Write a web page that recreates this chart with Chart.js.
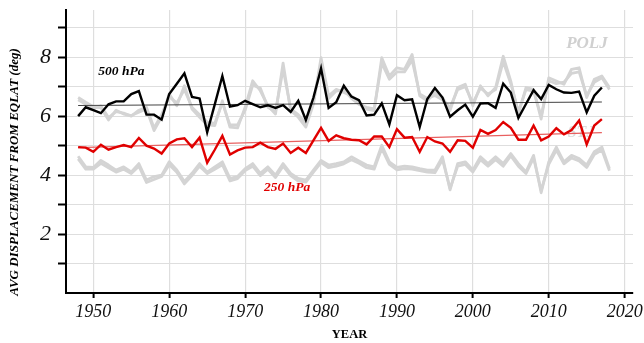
<!DOCTYPE html>
<html>
<head>
<meta charset="utf-8">
<script src="https://cdn.jsdelivr.net/npm/chart.js@4"></script>
<style>
html,body{margin:0;padding:0;background:#fff;}
#wrap{width:644px;height:343px;position:relative;}
</style>
</head>
<body>
<div id="wrap"><canvas id="c" width="644" height="343"></canvas></div>
<script>
const years = [];
for (let y = 1948; y <= 2017; y++) years.push(y);
const grayYears = [];
for (let y = 1948; y <= 2018; y++) grayYears.push(y);

const xTickYears = [1950, 1960, 1970, 1980, 1990, 2000, 2010, 2020];
const yTickValues = [0, 1, 2, 3, 4, 5, 6, 7, 8, 9];

const hpa500 = [
  6.0,6.3,6.2,6.1,6.4,6.5,6.5,6.75,6.85,6.05,6.05,5.88,6.75,7.1,7.45,6.65,6.6,5.45,
  6.4,7.36,6.32,6.37,6.52,6.41,6.3,6.37,6.28,6.37,6.14,6.52,5.87,6.63,7.62,6.28,6.47,7.03,
  6.66,6.54,6.02,6.05,6.43,5.72,6.71,6.54,6.57,5.63,6.58,6.95,6.63,5.98,6.2,6.39,5.98,
  6.43,6.44,6.28,7.1,6.8,5.94,6.41,6.88,6.58,7.06,6.91,6.8,6.79,6.83,6.13,6.69,6.97
];
const hpa250 = [
  4.95,4.93,4.79,5.03,4.86,4.95,5.02,4.95,5.26,5.0,4.9,4.73,5.07,5.21,5.25,4.95,5.27,4.42,
  4.86,5.33,4.7,4.84,4.93,4.95,5.1,4.95,4.89,5.07,4.75,4.93,4.75,5.18,5.6,5.16,5.35,5.25,
  5.2,5.18,5.04,5.31,5.31,4.95,5.56,5.27,5.29,4.79,5.29,5.14,5.07,4.79,5.18,5.16,4.93,
  5.53,5.4,5.53,5.8,5.6,5.2,5.2,5.68,5.18,5.31,5.59,5.38,5.53,5.85,5.04,5.68,5.9
];
const trend500 = [6.36, 6.48];
const trend250 = [4.93, 5.44];
const trendYears = [1948, 2017];

const grayUpperA = [
  6.63,6.47,6.32,6.28,5.87,6.2,6.07,6.02,6.13,6.24,5.51,5.98,6.75,6.35,7.03,6.24,5.96,5.7,
  5.68,6.52,5.63,5.6,6.3,7.2,6.86,6.35,6.07,7.8,6.19,5.96,5.63,6.41,7.98,6.69,6.91,6.8,
  6.69,6.47,6.24,6.19,7.98,7.36,7.64,7.59,8.09,6.69,6.52,6.8,6.63,6.19,6.97,7.08,6.35,
  7.03,6.69,6.97,8.03,7.19,6.07,6.97,6.91,5.9,7.3,7.19,7.08,7.59,7.64,6.63,7.25,7.36,6.97
];
const grayUpperB = [
  6.55,6.4,6.25,6.35,5.95,6.15,6.1,6.0,6.2,6.3,5.6,6.05,6.65,6.45,6.9,6.3,6.05,5.8,
  5.75,6.45,5.7,5.7,6.2,7.05,6.95,6.3,6.15,7.6,6.25,6.05,5.75,6.5,7.8,6.6,6.85,6.9,
  6.6,6.4,6.3,6.25,7.8,7.25,7.5,7.5,7.9,6.75,6.6,6.7,6.55,6.3,6.9,7.0,6.45,
  6.95,6.75,6.9,7.85,7.1,6.15,6.9,6.85,6.0,7.2,7.1,7.15,7.45,7.5,6.7,7.15,7.3,6.9
];
const grayLowerA = [
  4.64,4.28,4.26,4.5,4.34,4.17,4.28,4.11,4.39,3.83,3.95,4.0,4.45,4.17,3.78,4.06,4.39,4.1,
  4.28,4.45,3.89,3.95,4.22,4.39,4.06,4.28,4.0,4.39,4.06,3.89,3.83,4.17,4.5,4.34,4.39,4.45,
  4.62,4.48,4.34,4.28,5.01,4.45,4.26,4.3,4.28,4.22,4.17,4.17,4.62,3.5,4.39,4.45,4.17,
  4.62,4.39,4.62,4.39,4.73,4.39,4.11,4.67,3.4,4.45,4.95,4.45,4.67,4.56,4.34,4.79,4.95,4.22
];
const grayLowerB = [
  4.55,4.2,4.2,4.4,4.25,4.1,4.2,4.05,4.3,3.75,3.85,3.95,4.35,4.1,3.7,3.98,4.3,4.05,
  4.2,4.35,3.8,3.88,4.15,4.3,3.98,4.2,3.92,4.3,3.98,3.8,3.76,4.1,4.42,4.25,4.3,4.38,
  4.52,4.4,4.25,4.2,4.9,4.36,4.18,4.22,4.2,4.15,4.1,4.08,4.52,3.55,4.3,4.36,4.1,
  4.52,4.3,4.52,4.3,4.65,4.3,4.05,4.58,3.48,4.36,4.85,4.38,4.58,4.48,4.26,4.7,4.85,4.15
];

const pts = (xs, ys) => ys.map((v, i) => ({x: xs[i], y: v}));
const SERIF = "'Liberation Serif', 'Times New Roman', serif";
const GRAY = '#d4d4d4';

function grayDs(data){
  return {data: pts(grayYears, data), borderColor: GRAY, borderWidth: 2.8, pointRadius: 0, tension: 0, borderJoinStyle: 'round'};
}

const textPlugin = {
  id: 'texts',
  beforeDatasetsDraw(chart){
    const {ctx, scales:{x, y}} = chart;
    ctx.save();
    ctx.font = "bold italic 16px " + SERIF;
    ctx.fillStyle = '#dcdcdc';
    ctx.textBaseline = 'middle';
    ctx.textAlign = 'left';
    ctx.fillText('STJ', x.getPixelForValue(2012.5), y.getPixelForValue(5.42));
    ctx.restore();
  },
  afterDraw(chart){
    const {ctx, scales:{x, y}} = chart;
    ctx.save();
    ctx.textBaseline = 'middle';
    ctx.textAlign = 'left';
    ctx.font = "bold italic 13.5px " + SERIF;
    ctx.fillStyle = '#000';
    ctx.fillText('500 hPa', x.getPixelForValue(1950.66), y.getPixelForValue(7.53));
    ctx.fillStyle = '#e00000';
    ctx.fillText('250 hPa', x.getPixelForValue(1972.5), y.getPixelForValue(3.59));
    ctx.font = "bold italic 17px " + SERIF;
    ctx.fillStyle = '#d0d0d0';
    ctx.fillText('POLJ', x.getPixelForValue(2012.3), y.getPixelForValue(8.46));
    // y axis title
    ctx.translate(15, 172);
    ctx.rotate(-Math.PI/2);
    ctx.textAlign = 'center';
    ctx.font = "bold italic 13px " + SERIF;
    ctx.fillStyle = '#000';
    ctx.fillText('AVG DISPLACEMENT FROM EQLAT (deg)', 0, 0);
    ctx.restore();
  }
};

new Chart(document.getElementById('c'), {
  type: 'line',
  data: {
    datasets: [
      {label: '250 hPa', data: pts(years, hpa250), borderColor: '#e00000', borderWidth: 2.4, pointRadius: 0, tension: 0},
      {label: '500 hPa', data: pts(years, hpa500), borderColor: '#000', borderWidth: 2.4, pointRadius: 0, tension: 0},
      {label: 'trend250', data: pts(trendYears, trend250), borderColor: '#e86060', borderWidth: 1.2, pointRadius: 0},
      {label: 'trend500', data: pts(trendYears, trend500), borderColor: '#444', borderWidth: 1.2, pointRadius: 0},
      grayDs(grayUpperA), grayDs(grayUpperB), grayDs(grayLowerA), grayDs(grayLowerB)
    ]
  },
  options: {
    responsive: false,
    animation: false,
    devicePixelRatio: 1,
    layout: {padding: {left: 0, right: 11, top: 10, bottom: 0}},
    plugins: {legend: {display: false}, tooltip: {enabled: false}},
    scales: {
      x: {
        type: 'linear',
        min: 1946.4, max: 2021.1,
        afterBuildTicks: s => { s.ticks = xTickYears.map(v => ({value: v})); },
        afterFit: s => { s.height = 50; s.paddingLeft = 0; s.paddingRight = 0; },
        border: {display: true, color: '#000', width: 2},
        grid: {color: '#dedede', lineWidth: 1.2, drawTicks: true, tickLength: 5, tickColor: '#000', tickWidth: 2},
        ticks: {autoSkip: false, maxRotation: 0, padding: 3, color: '#111',
                font: {family: SERIF, size: 18, style: 'italic'},
                callback: v => String(v)},
        title: {display: true, text: 'YEAR', color: '#000', padding: {top: 0, bottom: 1},
                font: {family: SERIF, size: 12.5, weight: 'bold'}}
      },
      y: {
        min: 0, max: 9.6,
        afterBuildTicks: s => { s.ticks = yTickValues.map(v => ({value: v})); },
        afterFit: s => { s.width = 66; s.paddingTop = 0; s.paddingBottom = 0; },
        border: {display: true, color: '#000', width: 2},
        grid: {
          color: c => (c.tick && c.tick.value === 0) ? 'rgba(0,0,0,0)' : '#dedede',
          lineWidth: 1, borderDash: [4, 4], tickBorderDash: [],
          drawTicks: true, tickLength: 8, tickWidth: 2,
          tickColor: c => (c.tick && c.tick.value === 0) ? 'rgba(0,0,0,0)' : '#000'
        },
        ticks: {padding: 7, color: '#111',
                font: {family: SERIF, size: 22, style: 'italic'},
                callback: v => (v > 0 && v % 2 === 0) ? String(v) : ''}
      }
    }
  },
  plugins: [textPlugin]
});
</script>
</body>
</html>
